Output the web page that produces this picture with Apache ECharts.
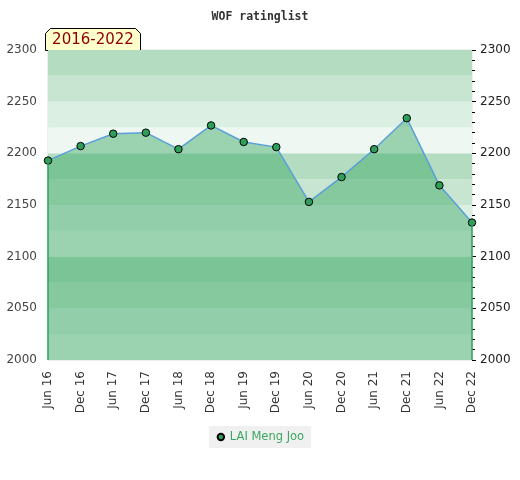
<!DOCTYPE html>
<html><head><meta charset="utf-8">
<script src="https://cdn.jsdelivr.net/npm/echarts@6/dist/echarts.min.js"></script>
<style>html,body{margin:0;padding:0;background:#fff}#c{width:520px;height:480px}</style>
</head><body><div id="c"></div>
<script>
var categories = ['Jun 16','Dec 16','Jun 17','Dec 17','Jun 18','Dec 18','Jun 19','Dec 19','Jun 20','Dec 20','Jun 21','Dec 21','Jun 22','Dec 22'];
var ratings = [2193, 2207, 2219, 2220, 2204, 2227, 2211, 2206, 2153, 2177, 2204, 2234, 2169, 2133];
var seriesName = 'LAI Meng Joo';
var titleText = 'WOF ratinglist';
var periodText = '2016-2022';
var yMin = 2000, yMax = 2300;

var chart = echarts.init(document.getElementById('c'));
var last = ratings.length - 1;
chart.setOption({
  animation: false,
  title: {text: titleText, left: 'center', top: 6,
    textStyle: {fontFamily: 'DejaVu Sans Mono', fontSize: 11.5, fontWeight: 'bold', color: '#333'}},
  grid: {left: 48, right: 48, top: 50, bottom: 120, show: true, borderColor: '#ddd', borderWidth: 1},
  legend: {bottom: 32, left: 'center', data: [seriesName], backgroundColor: '#f0f0f0',
    padding: [5, 7], itemWidth: 8, itemHeight: 8, itemGap: 8,
    textStyle: {color: '#3aa860', fontFamily: 'DejaVu Sans', fontSize: 11.5}},
  xAxis: {type: 'category', data: categories, boundaryGap: false,
    axisLine: {show: false}, axisTick: {show: false}, splitLine: {show: false},
    axisLabel: {rotate: 90, fontFamily: 'DejaVu Sans', fontSize: 12, color: '#333', margin: 11, interval: 0}},
  yAxis: [
    {type: 'value', min: yMin, max: yMax, interval: 25, position: 'left',
      axisLine: {show: false}, axisTick: {show: false}, splitLine: {show: false},
      splitArea: {show: true, areaStyle: {color: ['#eef7f1', '#dcefe3', '#c8e5d1', '#b3dcc1']}},
      axisLabel: {fontFamily: 'DejaVu Sans', fontSize: 12, color: '#444', margin: 11,
        formatter: function (v) { return v % 50 === 0 ? String(v) : ''; }}},
    {type: 'value', min: yMin, max: yMax, interval: 50, position: 'right',
      axisLine: {show: false}, splitLine: {show: false},
      axisTick: {show: true, length: 4, lineStyle: {color: '#000'}},
      minorTick: {show: true, splitNumber: 5, length: 3, lineStyle: {color: '#000'}},
      axisLabel: {fontFamily: 'DejaVu Sans', fontSize: 12, color: '#222', margin: 8,
        formatter: function (v) { return String(v); }}}
  ],
  series: [{
    name: seriesName, type: 'line', data: ratings, yAxisIndex: 0,
    symbol: 'circle', symbolSize: 7.5,
    itemStyle: {color: '#2e9e5b', borderColor: '#000', borderWidth: 1},
    lineStyle: {color: '#5aa0d8', width: 1.5},
    areaStyle: {color: 'rgb(54,166,98)', opacity: 0.45, origin: 'start'},
    markLine: {silent: true, symbol: 'none', label: {show: false},
      lineStyle: {color: '#2ca25f', width: 1.5, type: 'solid'},
      data: [
        [{coord: [categories[0], yMin]}, {coord: [categories[0], ratings[0]]}],
        [{coord: [categories[last], yMin]}, {coord: [categories[last], ratings[last]]}]
      ]}
  }],
  graphic: [{
    type: 'group', left: 45, top: 28, z: 100,
    children: [
      {type: 'polygon', shape: {points: [[0, 22], [0, 5], [5, 0], [90, 0], [95, 5], [95, 22]]},
        style: {fill: '#ffffcc', stroke: '#000', lineWidth: 1}},
      {type: 'text', x: 47.5, y: 12, style: {text: periodText, fill: '#8b0000',
        font: '15px "DejaVu Sans"', align: 'center', verticalAlign: 'middle'}}
    ]
  }]
});
</script></body></html>
